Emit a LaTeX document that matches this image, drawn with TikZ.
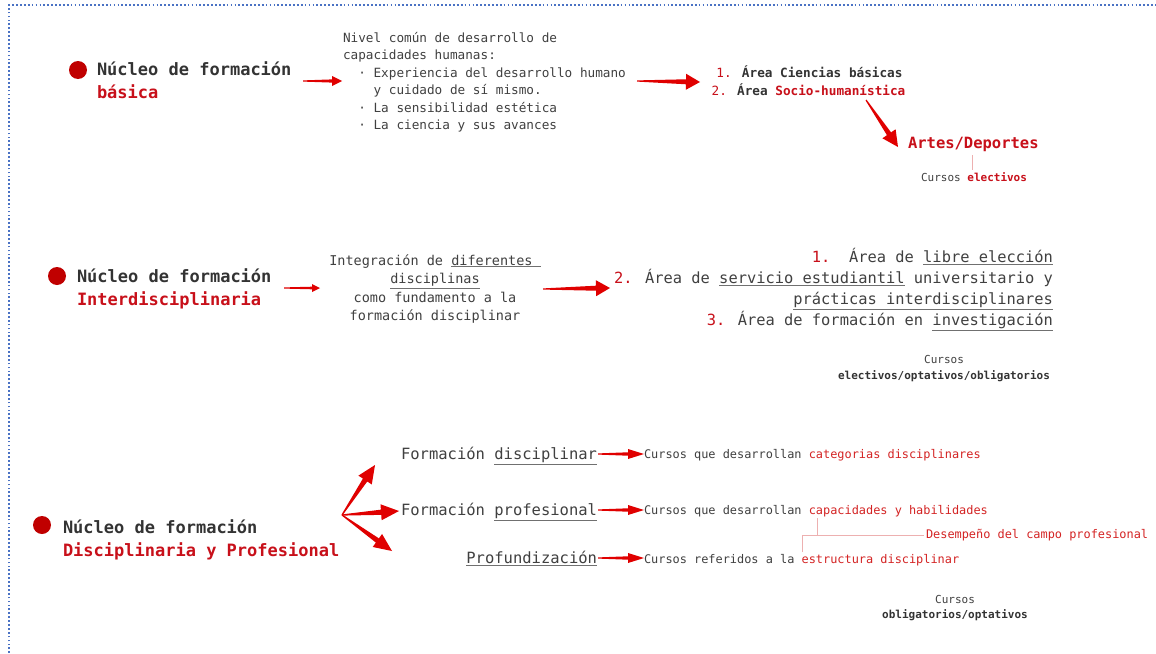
\documentclass[tikz,border=0pt]{standalone}
\usepackage{fontspec}
\setmainfont{DejaVu Sans Mono}
\usetikzlibrary{calc}
\definecolor{txt}{HTML}{404040}
\definecolor{hd}{HTML}{333333}
\definecolor{rd}{HTML}{C8101A}
\definecolor{rdl}{HTML}{D42424}
\definecolor{ar}{HTML}{E00000}
\definecolor{dotc}{HTML}{C00000}
\definecolor{brd}{HTML}{4A72C4}
\definecolor{thinln}{HTML}{EDB0B0}
\definecolor{ulc}{HTML}{707070}
\newcommand{\fsz}[1]{\fontsize{#1}{#1}\selectfont}
\newcommand{\undl}[1]{{\color{ulc}\underline{\textcolor{txt}{#1}}}}
\begin{document}
\begin{tikzpicture}[x=1pt,y=-1pt,
  every node/.style={inner sep=0pt, outer sep=0pt, text=txt},
  head/.style={font=\fsz{17}\bfseries, text=hd, anchor=base west},
  headred/.style={font=\fsz{17}\bfseries, text=rd, anchor=base west},
  body/.style={font=\fsz{12.7}, anchor=base west},
  area/.style={font=\fsz{12.7}, anchor=base},
  mid/.style={font=\fsz{13.5}, anchor=base},
  big/.style={font=\fsz{15.4}, anchor=base east},
  small/.style={font=\fsz{11}, anchor=base},
  crs/.style={font=\fsz{11.9}, anchor=base west},
  dot/.style={circle, fill=dotc, minimum size=18pt, inner sep=0pt},
  thin/.style={draw=thinln, line width=0.6pt},
  taper/.style n args={3}{to path={
    -- ($(\tikztostart)!0.6pt!90:(\tikztotarget)$)
    -- ($(\tikztotarget)!#1!(\tikztostart)!#3!-90:(\tikztostart)$)
    -- ($(\tikztotarget)!#1!(\tikztostart)!#2!-90:(\tikztostart)$)
    -- (\tikztotarget)
    -- ($(\tikztotarget)!#1!(\tikztostart)!#2!90:(\tikztostart)$)
    -- ($(\tikztotarget)!#1!(\tikztostart)!#3!90:(\tikztostart)$)
    -- ($(\tikztostart)!0.6pt!-90:(\tikztotarget)$)
    -- cycle}}
]
\useasboundingbox (0,0) rectangle (1156,653);
\fill[white] (0,0) rectangle (1156,653);
\draw[brd, line width=1.7pt, dash pattern=on 1.7pt off 2.2pt] (9,653) -- (9,5) -- (1156,5);

% ---------- Row 1 ----------
\node[dot] (d1) at (78,70) {};
\node[head] (n1a) at (97,75) {Núcleo de formación};
\node[headred] (n1b) at (97,98) {básica};

\node[body] (b1) at (343,42.5) {Nivel común de desarrollo de};
\node[body] (b2) at (343,59.9) {capacidades humanas:};
\node[body] (b3) at (343,77.3) {\hspace*{1.204em}· Experiencia del desarrollo humano};
\node[body] (b4) at (343,94.7) {\hspace*{2.408em}y cuidado de sí mismo.};
\node[body] (b5) at (343,112.1) {\hspace*{1.204em}· La sensibilidad estética};
\node[body] (b6) at (343,129.5) {\hspace*{1.204em}· La ciencia y sus avances};

\node[area] (ar1) at (809.5,77.5) {\textcolor{rd}{1.} \textbf{\textcolor{hd}{Área Ciencias básicas}}};
\node[area] (ar2) at (808.5,95.5) {\textcolor{rd}{2.} \textbf{\textcolor{hd}{Área} \textcolor{rd}{Socio-humanística}}};

\node[font=\fsz{15.5}\bfseries, text=rd, anchor=base west] (artes) at (908,148.5) {Artes/Deportes};
\node[small] (ce) at (974,181) {Cursos \textbf{\textcolor{rd}{electivos}}};
\draw[thin] (972,155) -- (972,170);

\coordinate (a1s) at (303,81);
\coordinate (a1e) at (342,81);
\fill[ar] (a1s) to[taper={10pt}{5pt}{1.6pt}] (a1e);
\coordinate (a2s) at (637,81);
\coordinate (a2e) at (700,82);
\fill[ar] (a2s) to[taper={14pt}{8pt}{2.5pt}] (a2e);
\coordinate (a3s) at (866,100);
\coordinate (a3e) at (898,147);
\fill[ar] (a3s) to[taper={16pt}{8pt}{2.5pt}] (a3e);

% ---------- Row 2 ----------
\node[dot] (d2) at (57,276) {};
\node[head] (n2a) at (77,282) {Núcleo de formación};
\node[headred] (n2b) at (77,305) {Interdisciplinaria};

\node[mid] (m1) at (435,265) {Integración de \undl{diferentes\ }};
\node[mid] (m2) at (435,283.5) {\undl{disciplinas}};
\node[mid] (m3) at (435,302) {como fundamento a la};
\node[mid] (m4) at (435,320.5) {formación disciplinar};

\node[big] (r1) at (1053,262.5) {\textcolor{rd}{1.}\hspace*{1.204em}Área de \undl{libre elección}};
\node[big] (r2) at (1053,283.5) {\textcolor{rd}{2.} Área de \undl{servicio estudiantil} universitario y};
\node[big] (r3) at (1053,304.5) {\undl{prácticas interdisciplinares}};
\node[big] (r4) at (1053,325.5) {\textcolor{rd}{3.} Área de formación en \undl{investigación}};

\node[small] (c2a) at (944,363) {Cursos};
\node[small, font=\fsz{11}\bfseries, text=hd] (c2b) at (944,379) {electivos/optativos/obligatorios};

\coordinate (a4s) at (284,288);
\coordinate (a4e) at (320,288);
\fill[ar] (a4s) to[taper={8pt}{4pt}{1.3pt}] (a4e);
\coordinate (a5s) at (543,289);
\coordinate (a5e) at (610,288);
\fill[ar] (a5s) to[taper={14pt}{8pt}{2.5pt}] (a5e);

% ---------- Row 3 ----------
\node[dot] (d3) at (42,525) {};
\node[head] (n3a) at (63,533) {Núcleo de formación};
\node[headred] (n3b) at (63,556) {Disciplinaria y Profesional};

\node[font=\fsz{15.5}, anchor=base east] (f1) at (597,459.5) {Formación \undl{disciplinar}};
\node[font=\fsz{15.5}, anchor=base east] (f2) at (597,515.5) {Formación \undl{profesional}};
\node[font=\fsz{15.5}, anchor=base east] (f3) at (597,563.5) {\undl{Profundización}};

\node[crs] (k1) at (644,458.5) {Cursos que desarrollan \textcolor{rdl}{categorias disciplinares}};
\node[crs] (k2) at (644,514.5) {Cursos que desarrollan \textcolor{rdl}{capacidades y habilidades}};
\node[crs] (k3) at (926,538.5) {\textcolor{rdl}{Desempeño del campo profesional}};
\node[crs] (k4) at (644,563.5) {Cursos referidos a la \textcolor{rdl}{estructura disciplinar}};

\draw[thin] (817,518) -- (817,535);
\draw[thin] (802,552) -- (802,535) -- (924,535);

\node[small] (c3a) at (955,603) {Cursos};
\node[small, font=\fsz{11}\bfseries, text=hd] (c3b) at (955,618) {obligatorios/optativos};

\coordinate (o3) at (342,515);
\coordinate (t3a) at (375,465);
\coordinate (t3b) at (399,511);
\coordinate (t3c) at (392,551);
\fill[ar] (o3) to[taper={18pt}{8pt}{2.6pt}] (t3a);
\fill[ar] (o3) to[taper={18pt}{8pt}{2.6pt}] (t3b);
\fill[ar] (o3) to[taper={18pt}{8pt}{2.6pt}] (t3c);

\coordinate (s1a) at (598,454);
\coordinate (s1b) at (644,454);
\coordinate (s2a) at (598,510);
\coordinate (s2b) at (644,510);
\coordinate (s3a) at (598,558);
\coordinate (s3b) at (644,558);
\fill[ar] (s1a) to[taper={16pt}{5pt}{1.7pt}] (s1b);
\fill[ar] (s2a) to[taper={16pt}{5pt}{1.7pt}] (s2b);
\fill[ar] (s3a) to[taper={16pt}{5pt}{1.7pt}] (s3b);
\end{tikzpicture}
\end{document}
